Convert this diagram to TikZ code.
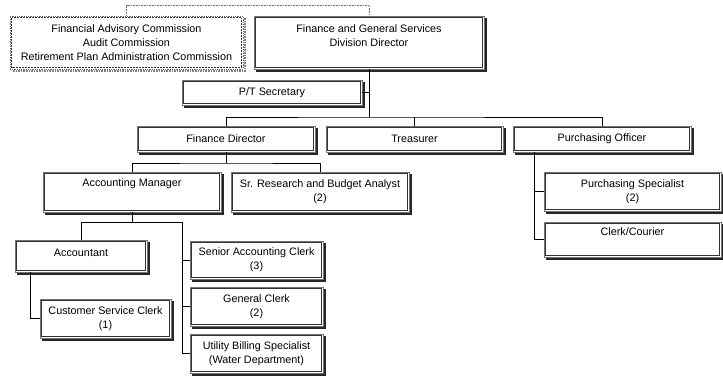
\documentclass[tikz,border=0pt]{standalone}
\usepackage{fontspec}
\setmainfont{Liberation Sans}
\usetikzlibrary{calc}

\begin{document}
\begin{tikzpicture}[
    x=1pt, y=-1pt,
    every node/.style={font=\fontsize{10.8}{14}\selectfont, align=center},
    post/.style={draw=black!55, line width=0.8pt, fill=white, inner sep=2pt},
    board/.style={post, densely dotted, draw=black!60},
    lift/.style={text depth=#1},
    inner/.style={draw=black!80, line width=0.5pt},
    rim/.style={draw=black!85, line width=1.6pt},
    link/.style={draw=black, line width=0.6pt},
    advise/.style={draw=black!55, line width=0.6pt, densely dotted}
]
\useasboundingbox (0,0) rectangle (723,375);

% top level
\node[board, minimum width=233pt, minimum height=53pt] (com) at (126.5,42.5)
    {Financial Advisory Commission\\Audit Commission\\Retirement Plan Administration Commission};
\node[post, minimum width=230pt, minimum height=53pt] (dir) at (369,42.5)
    {Finance and General Services\\Division Director\\\mbox{}};
\node[post, minimum width=180pt, minimum height=25pt] (sec) at (272,92.5) {P/T Secretary};

% second level
\node[post, minimum width=178pt, minimum height=26pt] (fd) at (226,139) {Finance Director};
\node[post, minimum width=177pt, minimum height=26pt] (tre) at (414.5,139) {Treasurer};
\node[post, minimum width=178pt, minimum height=26pt] (po) at (602,139) {Purchasing Officer};

% finance
\node[post, minimum width=178pt, minimum height=40pt, lift=18pt] (am) at (132,192) {Accounting Manager};
\node[post, minimum width=178pt, minimum height=40pt] (sr) at (320,192) {Sr. Research and Budget Analyst\\(2)};
\node[post, minimum width=132pt, minimum height=32pt, lift=6pt] (acc) at (81,256) {Accountant};
\node[post, minimum width=131pt, minimum height=39pt] (csc) at (105.5,318.5) {Customer Service Clerk\\(1)};
\node[post, minimum width=133pt, minimum height=38pt] (sac) at (256.5,260) {Senior Accounting Clerk\\(3)};
\node[post, minimum width=133pt, minimum height=39pt] (gc) at (256.5,306.5) {General Clerk\\(2)};
\node[post, minimum width=133pt, minimum height=39pt] (ubs) at (256.5,353.5) {Utility Billing Specialist\\(Water Department)};

% purchasing
\node[post, minimum width=177pt, minimum height=39pt] (ps) at (632.5,191.5) {Purchasing Specialist\\(2)};
\node[post, minimum width=177pt, minimum height=35pt, lift=15pt] (cc) at (632.5,239.5) {Clerk/Courier};

% inner frame and shadow edges
\draw[inner, densely dotted] ($(com.north west)+(2,2)$) rectangle ($(com.south east)+(-2,-2)$);
\draw[rim, densely dotted, draw=black!50] ($(com.north east)+(1.6,2.5)$) |- ($(com.south west)+(2.5,1.6)$);
\foreach \n in {dir,sec,fd,tre,po,am,sr,acc,csc,sac,gc,ubs,ps,cc} {
    \draw[inner] ($(\n.north west)+(2,2)$) rectangle ($(\n.south east)+(-2,-2)$);
    \draw[rim] ($(\n.north east)+(1.6,2.5)$) |- ($(\n.south west)+(2.5,1.6)$);
}

\coordinate (bus) at (369,117);
\coordinate (fdbus) at (226,163);
\coordinate (ambus) at (132,222);
\coordinate (clk) at (182,222);
\coordinate (pov) at ($(po.south west)+(22,0)$);
\coordinate (accv) at ($(acc.south west)+(16,0)$);

\draw[advise] (com.north) -- ++(0,-10) -| (dir.north);
\draw[link] (dir.south) -- (bus);
\draw[link] (sec.east) -- (sec.east -| bus);
\draw[link] (fd.north) |- (bus) -| (po.north);
\draw[link] (tre.north) -- (tre.north |- bus);

\draw[link] (fd.south) -- (fdbus);
\draw[link] (am.north) |- (fdbus) -| (sr.north);

\draw[link] (am.south) -- (ambus);
\draw[link] (acc.north) |- (clk) -- (clk |- ubs.west);
\foreach \n in {sac,gc,ubs}
    \draw[link] (\n.west) -- (\n.west -| clk);
\draw[link] (accv) |- (csc.west);

\draw[link] (pov) |- (cc.west);
\draw[link] (ps.west) -- (ps.west -| pov);
\end{tikzpicture}
\end{document}
